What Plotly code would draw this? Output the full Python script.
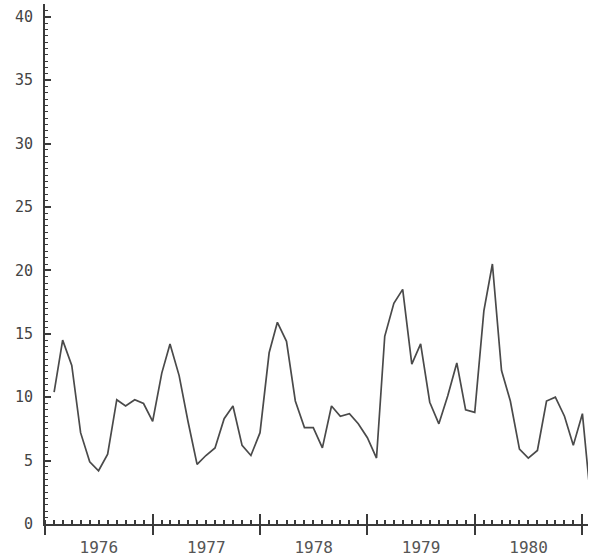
import plotly.graph_objects as go
import pandas as pd

# Monthly values, Feb 1976 .. Feb 1981 (last point runs off the right edge)
start_month = "1976-02-01"
values = [
    10.4, 14.5, 12.5, 7.2, 4.9, 4.2, 5.5, 9.8, 9.3, 9.8, 9.5,          # 1976 Feb-Dec
    8.1, 11.9, 14.2, 11.7, 8.1, 4.7, 5.4, 6.0, 8.3, 9.3, 6.2, 5.4,     # 1977
    7.2, 13.5, 15.9, 14.4, 9.7, 7.6, 7.6, 6.0, 9.3, 8.5, 8.7, 7.9,     # 1978
    6.8, 5.2, 14.8, 17.4, 18.5, 12.6, 14.2, 9.6, 7.9, 10.1, 12.7, 9.0, # 1979
    8.8, 16.8, 20.5, 12.1, 9.7, 5.9, 5.2, 5.8, 9.7, 10.0, 8.5, 6.2,    # 1980
    8.7, 1.2,                                                          # 1981 Jan-Feb
]
dates = pd.date_range(start_month, periods=len(values), freq="MS")

x_range = ["1976-01-01", "1981-01-20"]
y_range = [0, 41]
y_ticks = [0, 5, 10, 15, 20, 25, 30, 35, 40]

axis_col = "#3a3a3a"
line_col = "#4a4a4a"

fig = go.Figure()
fig.add_trace(go.Scatter(x=dates, y=values, mode="lines",
                         line=dict(color=line_col, width=1.7),
                         hoverinfo="skip", showlegend=False, cliponaxis=True))
# helper trace so the overlay axis (inner half of the year ticks) is drawn
fig.add_trace(go.Scatter(x=dates, y=values, xaxis="x2", mode="lines",
                         line=dict(width=0), opacity=0,
                         hoverinfo="skip", showlegend=False))

fig.update_layout(
    width=600, height=558,
    margin=dict(l=45, r=12, t=4, b=34),
    paper_bgcolor="white", plot_bgcolor="white",
    xaxis=dict(
        type="date", range=x_range, automargin=False,
        showgrid=False, zeroline=False,
        showline=True, linecolor=axis_col, linewidth=2,
        tick0="1976-01-01", dtick="M12", tickformat="%Y",
        ticklabelmode="period",
        ticks="outside", ticklen=9, tickwidth=2, tickcolor=axis_col,
        minor=dict(dtick="M1", tick0="1976-01-01", ticks="inside",
                   ticklen=4, tickwidth=1.5, tickcolor=axis_col, showgrid=False),
        tickfont=dict(family="DejaVu Sans Mono", size=16, color="#555"),
        ticklabelstandoff=-1,
    ),
    xaxis2=dict(
        type="date", range=x_range, overlaying="x", anchor="y", automargin=False,
        showgrid=False, zeroline=False, showline=False,
        tick0="1976-01-01", dtick="M12", showticklabels=False,
        ticks="inside", ticklen=10, tickwidth=2, tickcolor=axis_col,
    ),
    yaxis=dict(
        range=y_range, showgrid=False, zeroline=False, automargin=False,
        showline=True, linecolor=axis_col, linewidth=2,
        tickvals=y_ticks, ticks="inside", ticklen=6, tickwidth=2,
        tickcolor=axis_col,
        minor=dict(dtick=0.5, tick0=0, ticks="inside", ticklen=3,
                   tickwidth=1, tickcolor=axis_col, showgrid=False),
        tickfont=dict(family="DejaVu Sans Mono", size=15, color="#444"),
        ticklabelstandoff=7,
    ),
)

fig.write_html("out.html",
               config={"displayModeBar": False},
               post_script="document.body.style.margin='0';document.body.style.overflow='hidden';")
